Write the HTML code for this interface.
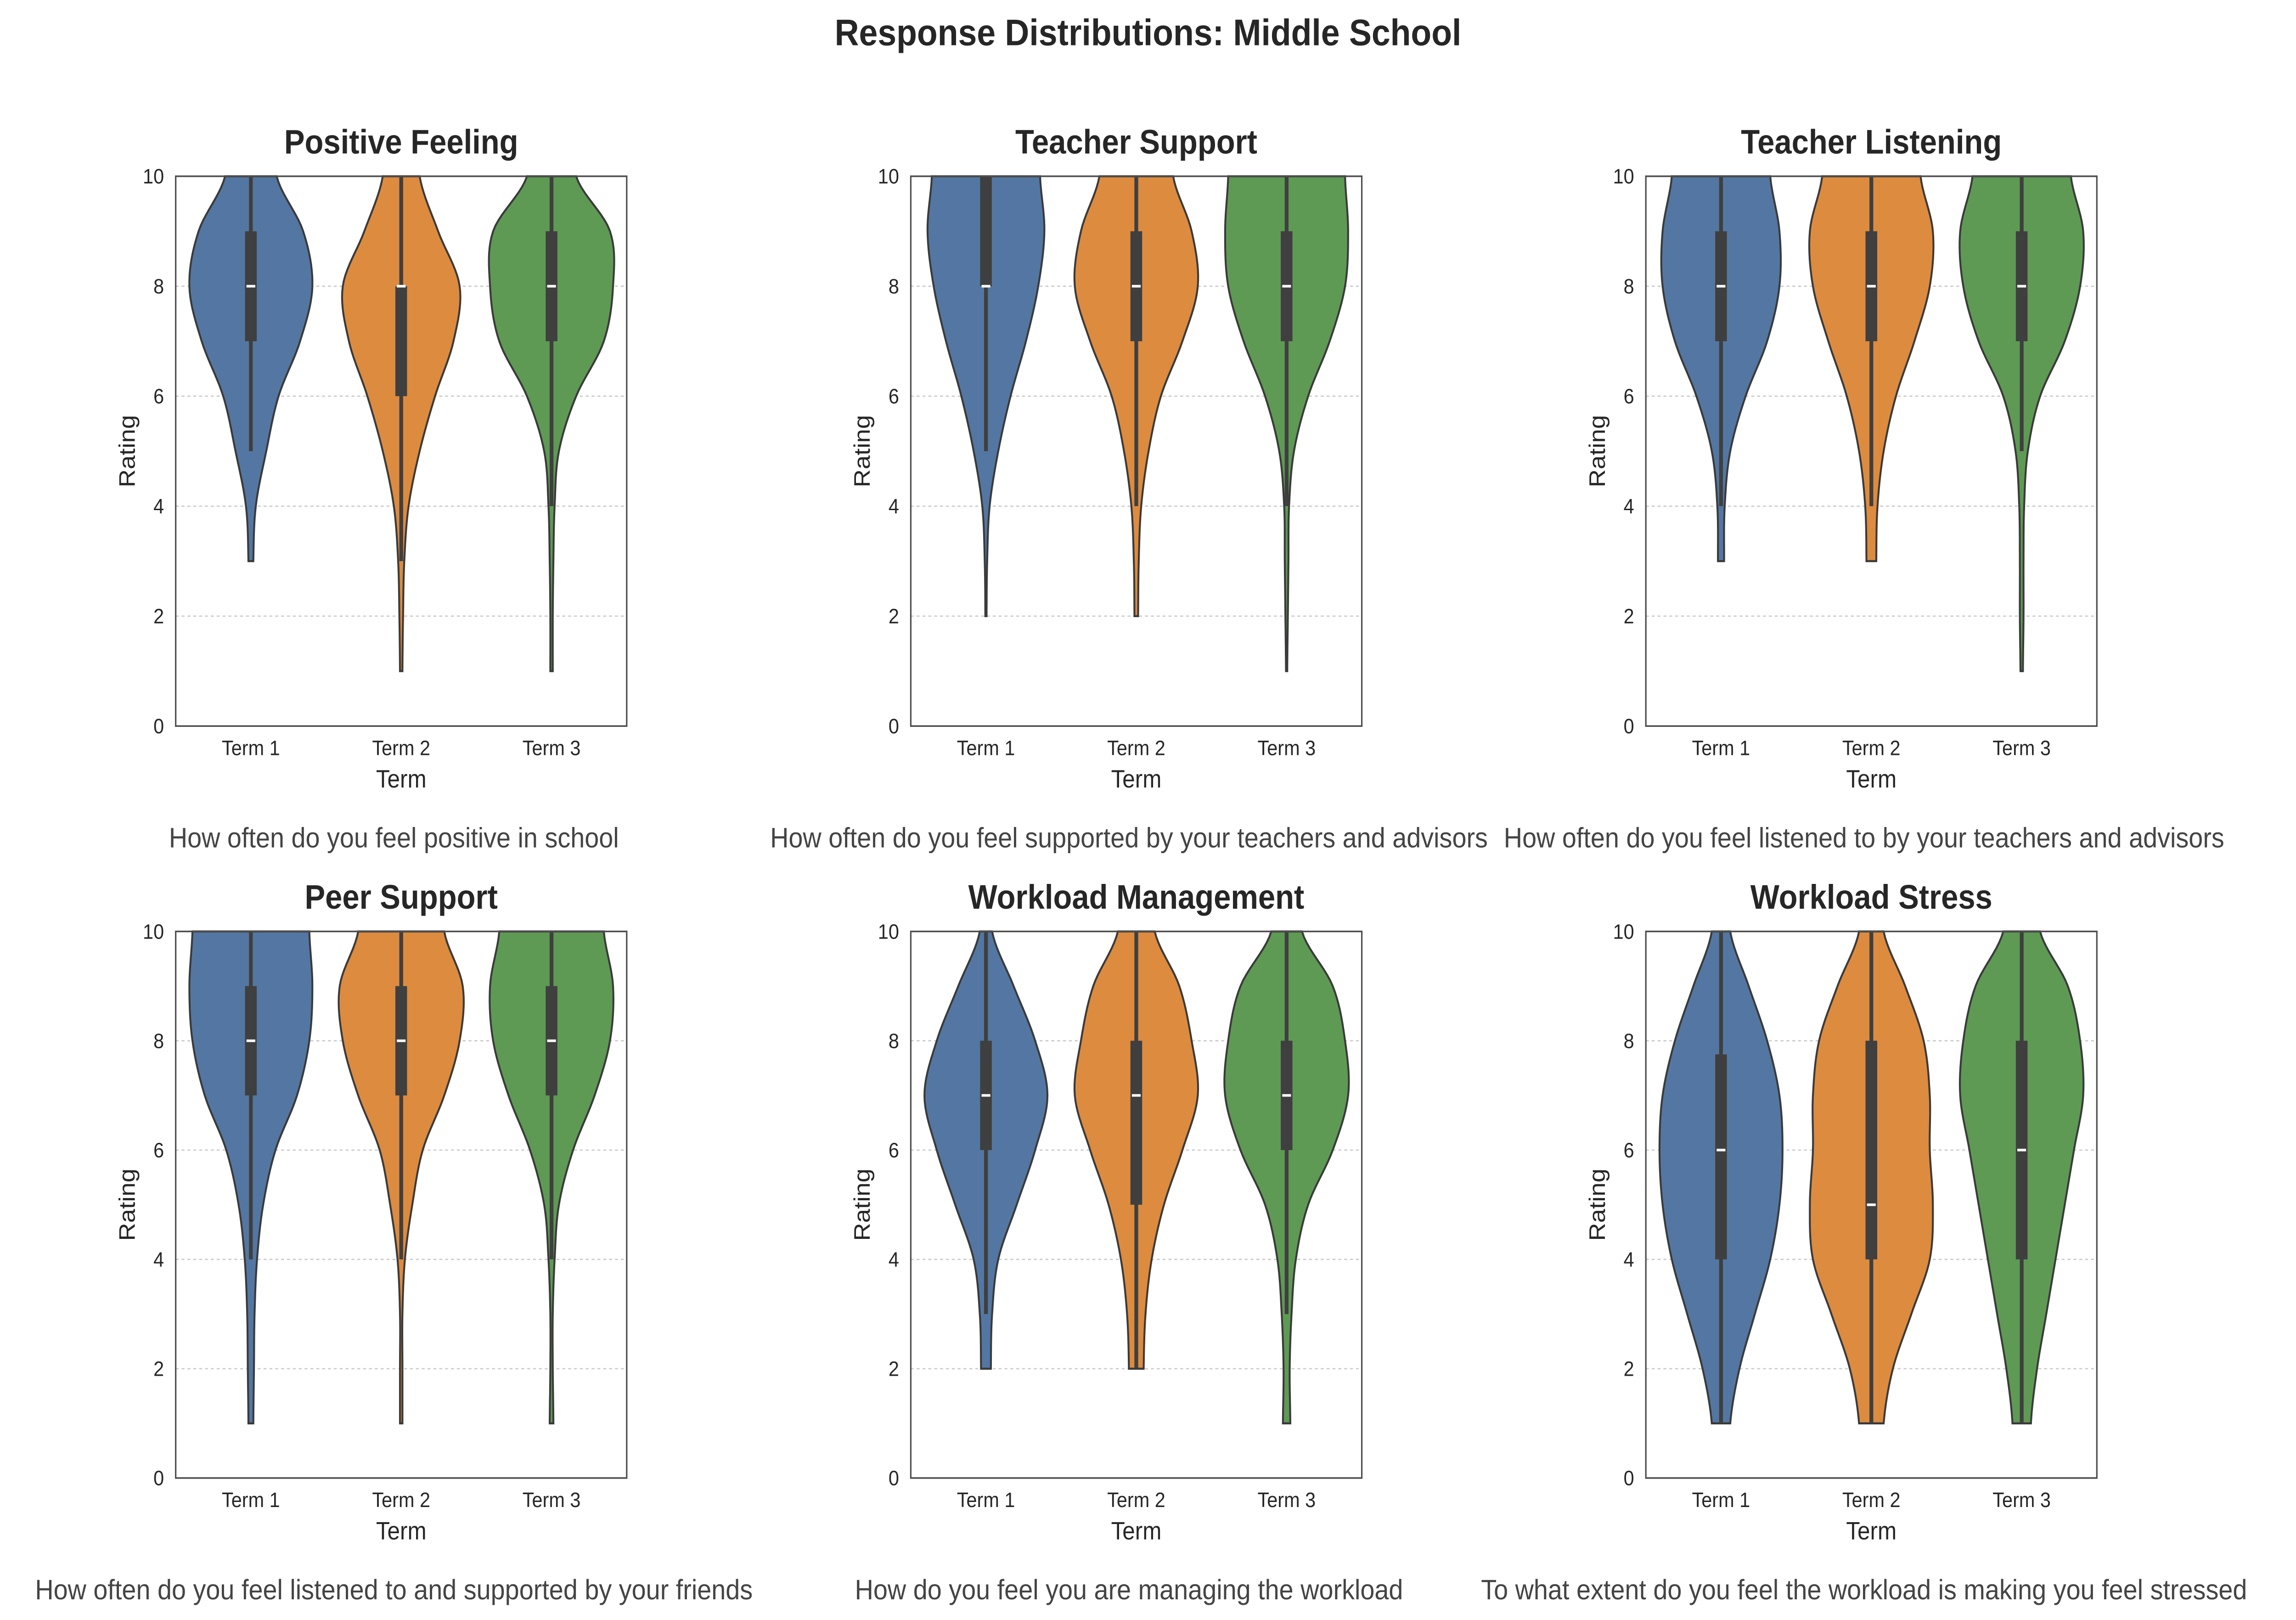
<!DOCTYPE html>
<html><head><meta charset="utf-8">
<style>
html,body{margin:0;padding:0;background:#fff;overflow:hidden;width:100vw;height:100vh;}
svg{display:block;position:absolute;left:0;top:0;width:100vw;height:100vh;font-family:"Liberation Sans","DejaVu Sans",sans-serif;}
</style></head>
<body>
<svg id="fig" viewBox="0 0 1568 1001.8" preserveAspectRatio="none" xmlns="http://www.w3.org/2000/svg">
<rect width="1568" height="1002" fill="#fff"/>
<text x="784" y="28" text-anchor="middle" font-size="23" font-weight="bold" fill="#262626">Response Distributions: Middle School</text>
</svg>
<script>
const panelTitles = ["Positive Feeling","Teacher Support","Teacher Listening","Peer Support","Workload Management","Workload Stress"];
const panelQuestions = [
"How often do you feel positive in school",
"How often do you feel supported by your teachers and advisors",
"How often do you feel listened to by your teachers and advisors",
"How often do you feel listened to and supported by your friends",
"How do you feel you are managing the workload",
"To what extent do you feel the workload is making you feel stressed"];
const categories = ["Term 1","Term 2","Term 3"];
const ratingLevels = [1,2,3,4,5,6,7,8,9,10];
const yTicks = [0,2,4,6,8,10];
// density (relative) at ratings 1..10; null = outside data range
const densities = [
 [[null,null,0.04,0.08,0.25,0.45,0.8,1.0,0.85,0.42],[0.02,0.03,0.05,0.12,0.3,0.55,0.85,0.95,0.6,0.3],[0.02,0.02,0.03,0.05,0.12,0.4,0.85,1.0,0.95,0.4]],
 [[null,0.01,0.02,0.06,0.2,0.4,0.65,0.85,0.95,0.88],[null,0.03,0.04,0.08,0.2,0.4,0.75,1.0,0.9,0.6],[0.01,0.02,0.03,0.04,0.12,0.35,0.7,0.95,1.0,0.95]],
 [[null,null,0.05,0.06,0.15,0.4,0.75,0.95,0.95,0.8],[null,null,0.08,0.1,0.2,0.4,0.7,0.95,1.0,0.8],[0.02,0.03,0.03,0.04,0.1,0.3,0.7,0.95,1.0,0.8]],
 [[0.04,0.05,0.06,0.1,0.2,0.4,0.75,0.95,1.0,0.95],[0.02,0.02,0.02,0.06,0.18,0.35,0.7,0.95,1.0,0.7],[0.03,0.02,0.02,0.05,0.12,0.35,0.7,0.95,1.0,0.85]],
 [[null,0.08,0.1,0.2,0.5,0.8,1.0,0.8,0.45,0.1],[null,0.12,0.15,0.25,0.45,0.75,1.0,0.9,0.7,0.3],[0.06,0.05,0.08,0.15,0.35,0.75,1.0,0.95,0.75,0.25]],
 [[0.15,0.3,0.55,0.8,0.95,1.0,0.95,0.75,0.45,0.15],[0.2,0.35,0.65,0.95,1.0,0.95,0.95,0.85,0.55,0.2],[0.15,0.25,0.4,0.55,0.7,0.85,1.0,0.95,0.75,0.3]]
];
const q1s = [[7,6,7],[8,7,7],[7,7,7],[7,7,7],[6,5,6],[4,4,4]];
const q3s = [[9,8,9],[10,9,9],[9,9,9],[9,9,9],[8,8,8],[7.75,8,8]];
const medians = [[8,8,8],[8,8,8],[8,8,8],[8,8,8],[7,7,7],[6,5,6]];
const whiskLo = [[5,3,4],[5,4,4],[4,4,5],[4,4,4],[3,2,3],[1,1,1]];
const whiskHi = [[10,10,10],[10,10,10],[10,10,10],[10,10,10],[10,10,10],[10,10,10]];

const colors = ["#5377a2","#dd8b3f","#5e9a54"];
const NS = "http://www.w3.org/2000/svg";
const svg = document.getElementById("fig");
function mk(tag, attrs, parent){const e=document.createElementNS(NS,tag);for(const k in attrs)e.setAttribute(k,attrs[k]);(parent||svg).appendChild(e);return e;}
const colX = [120,622,1124], rowY = [[109,449],[576,914]], AW = 308;

panelTitles.forEach((title,p)=>{
  const ax0 = colX[p%3], [yTop,yBot] = rowY[Math.floor(p/3)];
  const g = mk("g",{});
  
  
  const yS = v => yBot - (v/10)*(yBot-yTop);
  const step = AW/3;
  const xS = i => ax0 + step*(i+0.5);
  yTicks.forEach(t=>{
    if(t>0 && t<10){const l=mk("line",{x1:ax0,x2:ax0+AW,y1:yS(t),y2:yS(t),stroke:"#cccccc","stroke-width":0.8,"stroke-dasharray":"2,2"},g);
      }
    const tl=mk("text",{x:ax0-8,y:yS(t)+4.5,"text-anchor":"end","font-size":13,fill:"#262626"},g);tl.textContent=t;
    
  });
  categories.forEach((c,i)=>{
    const d = densities[p][i];
    const pts=[];
    ratingLevels.forEach((r,k)=>{ if(d[k]!==null) pts.push([r,d[k]]); });
    const HW = 42;
    const samp=[];
    for(let k=0;k<pts.length-1;k++){
      const p0=pts[Math.max(0,k-1)],p1=pts[k],p2=pts[k+1],p3=pts[Math.min(pts.length-1,k+2)];
      for(let s=0;s<10;s++){const t=s/10;
        const w=0.5*((2*p1[1])+(-p0[1]+p2[1])*t+(2*p0[1]-5*p1[1]+4*p2[1]-p3[1])*t*t+(-p0[1]+3*p1[1]-3*p2[1]+p3[1])*t*t*t);
        samp.push([p1[0]+(p2[0]-p1[0])*t,Math.max(0.01,w)]);}
    }
    samp.push(pts[pts.length-1]);
    let dstr="M"+samp.map(q=>(xS(i)+q[1]*HW).toFixed(2)+","+yS(q[0]).toFixed(2)).join(" L");
    dstr+=" L"+samp.slice().reverse().map(q=>(xS(i)-q[1]*HW).toFixed(2)+","+yS(q[0]).toFixed(2)).join(" L")+"Z";
    const v=mk("path",{d:dstr,fill:colors[i],stroke:"#3a3a3a","stroke-width":1.3},g);
    
    const wl=mk("line",{x1:xS(i),x2:xS(i),y1:yS(whiskLo[p][i]),y2:yS(whiskHi[p][i]),stroke:"#3f3f3f","stroke-width":2.6},g);
    
    const bx=mk("line",{x1:xS(i),x2:xS(i),y1:yS(q1s[p][i]),y2:yS(q3s[p][i]),stroke:"#3f3f3f","stroke-width":8},g);
    
    const md=mk("line",{x1:xS(i)-3,x2:xS(i)+3,y1:yS(medians[p][i]),y2:yS(medians[p][i]),stroke:"#fff","stroke-width":1.6},g);
    
    const xl=mk("text",{x:xS(i),y:yBot+18,"text-anchor":"middle","font-size":13,fill:"#262626"},g);xl.textContent=c;
    
  });
  const fr=mk("rect",{x:ax0,y:yTop,width:AW,height:yBot-yTop,fill:"none",stroke:"#4d4d4d","stroke-width":1},g);
  
  const tt=mk("text",{x:ax0+AW/2,y:yTop-14,"text-anchor":"middle","font-size":21,"font-weight":"bold",fill:"#262626"},g);tt.textContent=title;
  
  const xt=mk("text",{x:ax0+AW/2,y:yBot+38,"text-anchor":"middle","font-size":15.5,fill:"#262626"},g);xt.textContent="Term";
  
  const yc=(yTop+yBot)/2;
  const yt=mk("text",{x:ax0-28,y:yc,"text-anchor":"middle","font-size":15.5,fill:"#262626",transform:`rotate(-90 ${ax0-28} ${yc})`},g);
  yt.textContent="Rating";
  
  const q=mk("text",{x:ax0+AW/2-5,y:yBot+75,"text-anchor":"middle","font-size":17.5,fill:"#444444"},g);q.textContent=panelQuestions[p];
  
});
</script>
</body></html>
